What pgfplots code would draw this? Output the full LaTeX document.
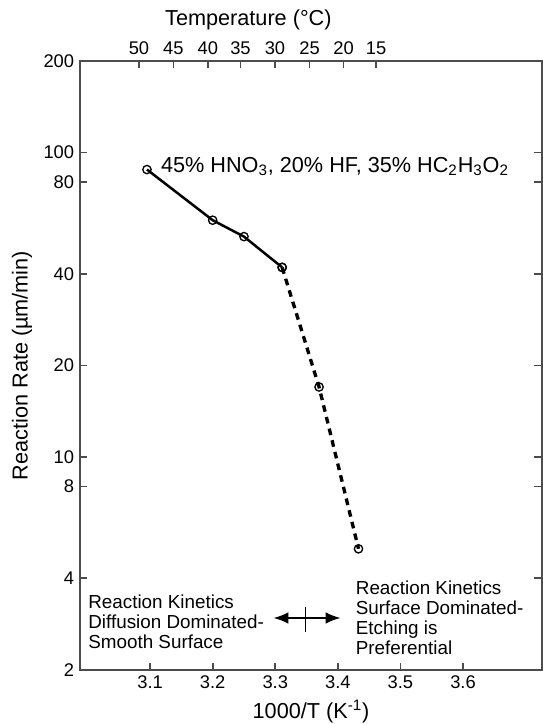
\documentclass[border=0pt]{standalone}
\usepackage{fontspec}
\setmainfont{Liberation Sans}
\usepackage{pgfplots}
\pgfplotsset{compat=1.18}
\usetikzlibrary{arrows.meta}

\pgfplotsset{
  frame/.style={
    scale only axis, width=277.2pt, height=365.4pt,
    xmin=2.988, xmax=3.7262,
    tick align=inside, major tick length=4.5pt,
    axis line style={line width=1.2pt, black!70},
    every tick/.style={line width=1pt, black!70},
    ticklabel style={font=\fontsize{11}{13}\selectfont},
    /pgf/number format/assume math mode=true,
  },
}

\begin{document}
\begin{tikzpicture}
\useasboundingbox (-48pt,-32.4pt) rectangle (277.8pt,402pt);

% bottom (1000/T) and rate axes
\begin{axis}[
  frame,
  ymode=log, ymin=2, ymax=200,
  xtick={3.1,3.2,3.3,3.4,3.5,3.6},
  xticklabels={3.1,3.2,3.3,3.4,3.5,3.6},
  xtick pos=left,
  ytick={2,4,8,10,20,40,80,100,200},
  yticklabels={2,4,8,10,20,40,80,100,200},
  ytick pos=both, yticklabel pos=left,
  minor tick num=0,
  xlabel={1000/T (K\textsuperscript{-1})},
  ylabel={Reaction Rate (µm/min)},
  label style={font=\fontsize{13}{15}\selectfont},
  clip=false,
]
\addplot[black, line width=1.5pt, mark=o, mark size=2.5pt,
  mark options={solid, fill=white, line width=0.8pt}]
  coordinates {(3.095,88) (3.200,60) (3.250,53) (3.311,42)};
\addplot[black, line width=2pt, dash pattern=on 4pt off 3.2pt, mark=o, mark size=2.5pt,
  mark options={solid, fill=white, line width=0.8pt}]
  coordinates {(3.311,42) (3.370,17) (3.433,5)};

\node[anchor=west, font=\fontsize{13}{15}\selectfont, inner sep=0pt]
  at (axis cs:3.117,90)
  {45\% HNO\textsubscript{3}, 20\% HF, 35\% HC\textsubscript{2}H\textsubscript{3}O\textsubscript{2}};
\node[font=\fontsize{13}{15}\selectfont] at (rel axis cs:0.3644,1.0673) {Temperature (°C)};

\node[anchor=west, align=left, inner sep=0pt, font=\fontsize{11.3}{12}\selectfont]
  at (rel axis cs:0.0174,0.0793)
  {Reaction Kinetics\\Diffusion Dominated-\\Smooth Surface};
\node[anchor=west, align=left, inner sep=0pt, font=\fontsize{11.3}{12}\selectfont]
  at (rel axis cs:0.5965,0.0854)
  {Reaction Kinetics\\Surface Dominated-\\Etching is\\Preferential};
\draw[line width=1.1pt, {Latex[length=9pt,width=7pt]}-{Latex[length=9pt,width=7pt]}]
  (rel axis cs:0.4187,0.0854) -- (rel axis cs:0.564,0.0854);
\draw[line width=1pt] (rel axis cs:0.4881,0.1034) -- (rel axis cs:0.4881,0.0624);
\end{axis}

% top temperature axis (tick places as drawn in the figure)
\begin{axis}[
  frame,
  ymin=0, ymax=1,
  axis x line*=top, hide y axis,
  xtick={3.0822,3.1373,3.1923,3.2444,3.2995,3.3548,3.4092,3.4610},
  xticklabels={50,45,40,35,30,25,20,15},
]
\end{axis}
\end{tikzpicture}
\end{document}
